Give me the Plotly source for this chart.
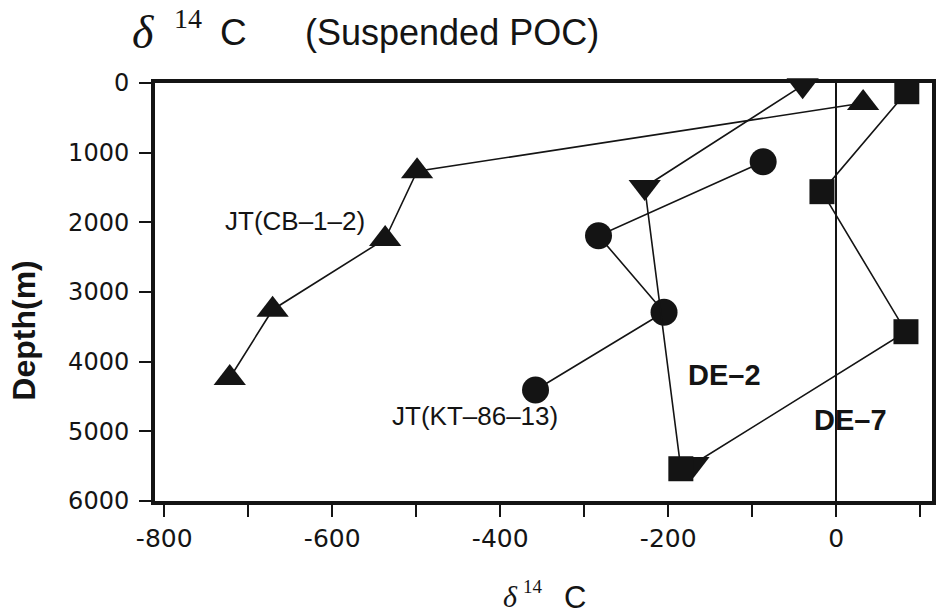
import plotly.graph_objects as go

# ---------------- data ----------------
# JT(CB-1-2)  (filled up-triangles)
jt_cb_d14c = [32, -499, -537, -671, -722]
jt_cb_depth = [287, 1267, 2239, 3254, 4234]

# JT(KT-86-13) (filled circles)
jt_kt_d14c = [-87, -283, -205, -358]
jt_kt_depth = [1130, 2192, 3291, 4407]

# DE-2 (down-triangles; last marker drawn as square in the original)
de2_d14c = [-40, -228, -185]
de2_depth = [33, 1493, 5537]
de2_symbols = ["triangle-down", "triangle-down", "square"]

# DE-7 (squares; last marker drawn as down-triangle in the original)
de7_d14c = [84, -17, 83, -170]
de7_depth = [125, 1560, 3570, 5469]
de7_symbols = ["square", "square", "square", "triangle-down"]

x_major_ticks = [-800, -600, -400, -200, 0]
x_tick_text = ["-800", "-600", "-400", "-200", "0"]
y_ticks = [0, 1000, 2000, 3000, 4000, 5000, 6000]

# ---------------- layout geometry ----------------
W, H = 937, 616
L, R, T, B = 155, 1, 83, 115
PW, PH = W - L - R, H - T - B


def px(xp):
    return (xp - L) / PW


def py(yp):
    return (H - B - yp) / PH


INK = "#141414"
SANS = "Liberation Sans, Arial, sans-serif"
SERIF = "Liberation Serif, Times New Roman, serif"
TICKF = "DejaVu Sans, Liberation Sans, sans-serif"


def sizes(symbols):
    return [25 if s == "square" else 28 for s in symbols]


fig = go.Figure()
line_style = dict(color=INK, width=1.6)

fig.add_trace(go.Scatter(
    x=jt_cb_d14c, y=jt_cb_depth, mode="lines+markers", line=line_style,
    marker=dict(symbol="triangle-up", size=28, color=INK, opacity=1, line=dict(width=0)),
    cliponaxis=False, name="JT(CB-1-2)"))

fig.add_trace(go.Scatter(
    x=jt_kt_d14c, y=jt_kt_depth, mode="lines+markers", line=line_style,
    marker=dict(symbol="circle", size=27, color=INK, opacity=1, line=dict(width=0)),
    cliponaxis=False, name="JT(KT-86-13)"))

fig.add_trace(go.Scatter(
    x=de7_d14c, y=de7_depth, mode="lines+markers", line=line_style,
    marker=dict(symbol=de7_symbols, size=sizes(de7_symbols), color=INK,
                opacity=1, line=dict(width=0)),
    cliponaxis=False, name="DE-7"))

fig.add_trace(go.Scatter(
    x=de2_d14c, y=de2_depth, mode="lines+markers", line=line_style,
    marker=dict(symbol=de2_symbols, size=sizes(de2_symbols), color=INK,
                opacity=1, line=dict(width=0)),
    cliponaxis=False, name="DE-2"))


def pann(xp, yp, text, family, size, xanchor="center", angle=0):
    return dict(x=px(xp), y=py(yp), xref="paper", yref="paper", text=text,
                showarrow=False, xanchor=xanchor, yanchor="middle", textangle=angle,
                font=dict(family=family, size=size, color=INK))


def dann(x, y, text, family, size):
    return dict(x=x, y=y, xref="x", yref="y", text=text, showarrow=False,
                xanchor="center", yanchor="middle",
                font=dict(family=family, size=size, color=INK))


annotations = [
    # in-plot labels
    dann(-644, 1981, "JT(CB–1–2)", SANS, 26),
    dann(-430, 4780, "JT(KT–86–13)", SANS, 26),
    dann(-133, 4191, "<b>DE–2</b>", SANS, 29),
    dann(17, 4837, "<b>DE–7</b>", SANS, 29),
    # title pieces
    pann(143, 33, "<i>δ</i>", SERIF, 46),
    pann(188, 18, "14", SERIF, 28),
    pann(234, 33, "C", SANS, 37),
    pann(304, 33, "(Suspended POC)", SANS, 36, xanchor="left"),
    # x-axis title pieces
    pann(512, 596, "<i>δ</i>", SERIF, 30),
    pann(535, 586, "14", SERIF, 19),
    pann(577, 597, "C", SANS, 31),
    # y-axis title
    pann(23, 331, "<b>Depth(m)</b>", SANS, 32, angle=-90),
]

fig.update_layout(
    width=W, height=H,
    margin=dict(l=L, r=R, t=T, b=B, pad=0),
    paper_bgcolor="white", plot_bgcolor="white",
    showlegend=False,
    annotations=annotations,
    xaxis=dict(
        range=[-811, 114],
        tickmode="array", tickvals=x_major_ticks, ticktext=x_tick_text,
        ticks="outside", ticklen=12, tickwidth=2, tickcolor=INK,
        minor=dict(dtick=100, tick0=0, ticks="outside", ticklen=12, tickwidth=2, tickcolor=INK),
        showgrid=False,
        zeroline=True, zerolinecolor=INK, zerolinewidth=1.6,
        showline=True, linecolor=INK, linewidth=4, mirror=True,
        tickfont=dict(family=TICKF, size=25, color=INK),
        ticklabelstandoff=0,
    ),
    yaxis=dict(
        range=[6000, 0],
        tickmode="array", tickvals=y_ticks,
        ticks="outside", ticklen=12, tickwidth=2, tickcolor=INK,
        showgrid=False, zeroline=False,
        showline=True, linecolor=INK, linewidth=4, mirror=True,
        tickfont=dict(family=TICKF, size=24, color=INK),
        ticklabelstandoff=5,
    ),
)

fig.write_html("out.html")
